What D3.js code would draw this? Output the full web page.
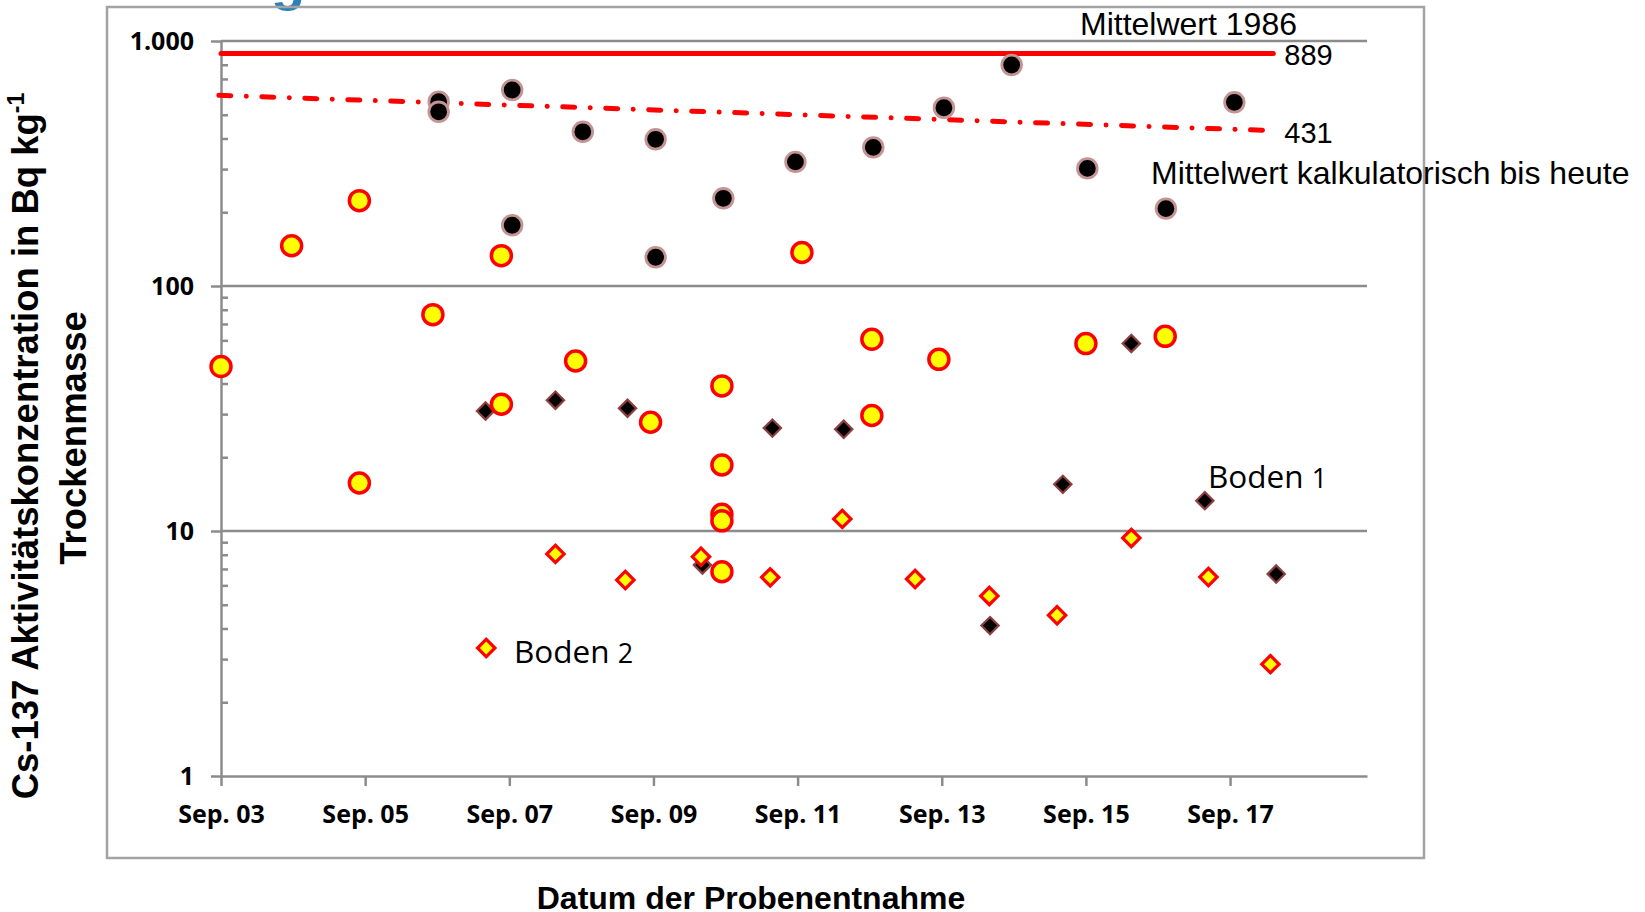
<!DOCTYPE html>
<html>
<head>
<meta charset="utf-8">
<script src="https://cdn.jsdelivr.net/npm/d3@7"></script>
<style>
    body { margin: 0; background: #fff; }
    svg { display: block; }
</style>
</head>
<body>
<script>
// Cs-137 values per sample; x = year of sampling (3 = Sep. 03), y = Bq/kg
var kreiseSchwarz = [[6.02, 565], [6.02, 514], [7.04, 631], [8.02, 426], [9.03, 397], [9.97, 228],
    [7.04, 177], [9.03, 131], [10.97, 321], [12.05, 368], [13.03, 534], [13.97, 798],
    [15.02, 302], [16.11, 207], [17.06, 562]];
var kreiseGelb = [[3.0, 46.9], [3.98, 146], [4.92, 223], [4.92, 15.7], [5.94, 76.4], [6.89, 133],
    [6.89, 32.9], [7.92, 49.4], [8.96, 27.8], [9.95, 39.1], [9.95, 18.6], [9.95, 11.7],
    [9.95, 11.0], [9.95, 6.82], [11.06, 137], [12.03, 60.6], [12.03, 29.6], [12.96, 50.2],
    [15.0, 58.2], [16.1, 62.3]];
var boden1 = [[6.67, 30.9], [7.64, 34.2], [8.64, 31.7], [9.68, 7.27], [10.65, 26.3], [11.64, 26.0],
    [13.67, 4.11], [14.68, 15.5], [15.63, 58.3], [16.65, 13.3], [17.64, 6.67]];
var boden2 = [[7.64, 8.06], [8.61, 6.31], [9.66, 7.85], [10.62, 6.47], [11.62, 11.2], [12.63, 6.37],
    [13.66, 5.43], [14.60, 4.53], [15.63, 9.36], [16.70, 6.49], [17.56, 2.86]];

// mean lines: 1986 and calculated to date
var mittelJahre = [3, 17.6];
var mittel1986 = [889, 889];
var mittelHeute = [600, 431];

var legendeBoden2 = [6.68, 3.33];

var xTicks = [3, 5, 7, 9, 11, 13, 15, 17];
var yTicks = [1, 10, 100, 1000];
var yTickLabels = ['1', '10', '100', '1.000'];

var W = 1645, H = 912;
var grey = '#8c8c8c';
var arial = '"Liberation Sans", Arial, sans-serif';
var calib = '"Open Sans", "Noto Sans", sans-serif';

var svg = d3.select('body').append('svg').attr('width', W).attr('height', H);

var x = d3.scaleLinear().domain([3, 18.9]).range([221, 1367]);
var y = d3.scaleLog().domain([1, 1000]).range([776, 41]);

// clipped blue letter from the slide title above
svg.append('text')
    .attr('x', 288).attr('y', -1)
    .attr('text-anchor', 'middle')
    .style('font', 'bold 56px ' + arial)
    .style('fill', '#2e80b8')
    .text('g');

// chart frame
svg.append('rect')
    .attr('x', 107).attr('y', 7).attr('width', 1317).attr('height', 851)
    .style('fill', 'none').style('stroke', '#a3a3a3').style('stroke-width', 2.5);

// horizontal gridlines
svg.append('g').selectAll('line').data(yTicks.slice(1)).enter().append('line')
    .attr('x1', x.range()[0]).attr('x2', x.range()[1])
    .attr('y1', function(d) {return y(d);}).attr('y2', function(d) {return y(d);})
    .style('stroke', grey).style('stroke-width', 2.5);

// y axis: major ticks outside, minor ticks inside
var yAxis = d3.axisLeft(y)
    .tickValues(yTicks)
    .tickSize(10).tickSizeOuter(0).tickPadding(17)
    .tickFormat(function(d, i) {return yTickLabels[i];});
var gy = svg.append('g').attr('transform', 'translate(' + x.range()[0] + ',0)').call(yAxis);

var minor = y.ticks().filter(function(d) {return yTicks.indexOf(d) < 0;});
var gyMinor = svg.append('g').attr('transform', 'translate(' + x.range()[0] + ',0)')
    .call(d3.axisRight(y).tickValues(minor).tickSize(7).tickSizeOuter(0).tickFormat(''));
gyMinor.select('.domain').remove();

var xAxis = d3.axisBottom(x)
    .tickValues(xTicks)
    .tickSize(10).tickSizeOuter(0).tickPadding(19)
    .tickFormat(function(d) {return 'Sep. ' + d3.format('02d')(d);});
var gx = svg.append('g').attr('transform', 'translate(0,' + y.range()[0] + ')').call(xAxis);

[gy, gyMinor, gx].forEach(function(g) {
    g.selectAll('.domain, line').style('stroke', grey).style('stroke-width', 2.5);
    g.selectAll('text').style('font', 'bold 25px ' + calib).style('fill', '#000');
});

// mean lines
var linie = d3.line()
    .x(function(d) {return x(d[0]);})
    .y(function(d) {return y(d[1]);});

svg.append('path')
    .datum(mittelJahre.map(function(j, i) {return [j, mittel1986[i]];}))
    .attr('d', linie)
    .style('fill', 'none').style('stroke', '#ff0000').style('stroke-width', 5)
    .style('stroke-linecap', 'round');

svg.append('path')
    .datum(mittelJahre.map(function(j, i) {return [j - 0.03, mittelHeute[i]];}))
    .attr('d', linie)
    .style('fill', 'none').style('stroke', '#ff0000').style('stroke-width', 5)
    .style('stroke-linecap', 'round')
    .style('stroke-dasharray', '12 15.5 0.01 15.5');

// points
var diamond = d3.symbol().type(d3.symbolSquare).size(150);

function rauten(data, fill, stroke, sw) {
    svg.append('g').selectAll('path').data(data).enter().append('path')
        .attr('d', diamond)
        .attr('transform', function(d) {return 'translate(' + x(d[0]) + ',' + y(d[1]) + ') rotate(45)';})
        .style('fill', fill).style('stroke', stroke).style('stroke-width', sw);
}

function kreise(data, fill, stroke, sw, r) {
    svg.append('g').selectAll('circle').data(data).enter().append('circle')
        .attr('cx', function(d) {return x(d[0]);})
        .attr('cy', function(d) {return y(d[1]);})
        .attr('r', r)
        .style('fill', fill).style('stroke', stroke).style('stroke-width', sw);
}

rauten(boden1, '#000', '#8c4040', 2.2);
rauten(boden2, '#ffff00', '#ff0000', 3.2);
rauten([legendeBoden2], '#ffff00', '#ff0000', 3.2);
kreise(kreiseSchwarz, '#000', '#c49494', 2.8, 9.8);
kreise(kreiseGelb, '#ffff00', '#ff0000', 3.5, 10);

// annotations
function label(tx, ty, txt, font) {
    return svg.append('text').attr('x', tx).attr('y', ty).style('font', font).style('fill', '#000').text(txt);
}
label(1080, 35, 'Mittelwert 1986', '32px ' + arial);
label(x(mittelJahre[1]) + 11, y(mittel1986[1]) + 11, '889', '29px ' + arial);
label(x(mittelJahre[1]) + 11, y(mittelHeute[1]) + 12, '431', '29px ' + arial);
label(1151, 184, 'Mittelwert kalkulatorisch bis heute', '32px ' + arial);

label(1208, 488, 'Boden ', '31.5px ' + calib).append('tspan').style('font-size', '27px').text('1');
label(514, 663, 'Boden ', '31.5px ' + calib).append('tspan').style('font-size', '27px').text('2');

// axis titles
var yTitle = svg.append('text')
    .attr('transform', 'translate(38,446) rotate(-90)')
    .attr('text-anchor', 'middle')
    .style('font', 'bold 36.5px ' + arial)
    .text('Cs-137 Aktivitätskonzentration in Bq kg');
yTitle.append('tspan').attr('dy', -14).style('font-size', '23px').text('-1');

svg.append('text')
    .attr('transform', 'translate(86,438) rotate(-90)')
    .attr('text-anchor', 'middle')
    .style('font', 'bold 36.5px ' + arial)
    .text('Trockenmasse');

svg.append('text')
    .attr('x', 751).attr('y', 909)
    .attr('text-anchor', 'middle')
    .style('font', 'bold 32px ' + arial)
    .text('Datum der Probenentnahme');
</script>
</body>
</html>
